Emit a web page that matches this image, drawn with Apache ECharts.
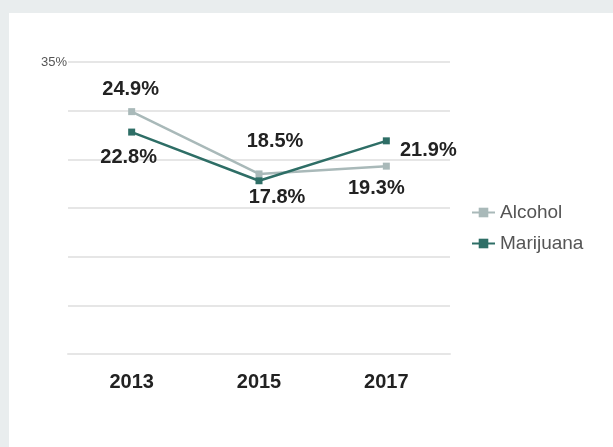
<!DOCTYPE html>
<html>
<head>
<meta charset="utf-8">
<script src="https://cdn.jsdelivr.net/npm/echarts@6/dist/echarts.min.js"></script>
<style>
  html, body { margin: 0; padding: 0; background: #e9edee; }
  #wrap { position: absolute; left: 9px; top: 13px; right: 0; bottom: 0; background: #fff; }
  #main { position: absolute; left: 0; top: 0; width: 613px; height: 447px; }
</style>
</head>
<body>
<div id="wrap"></div>
<div id="main"></div>
<script>
var years = ['2013', '2015', '2017'];
var alcohol = [24.9, 18.5, 19.3];
var marijuana = [22.8, 17.8, 21.9];

var chart = echarts.init(document.getElementById('main'));

var font = 'Liberation Sans, Arial, sans-serif';

// label offsets from each point (centered on the point, then shifted)
var alcOffsets = [[-1, -22], [16, -32], [-10, 22]];
var marOffsets = [[-3, 25], [18, 17], [42, 10]];

function buildData(values, offsets) {
    return values.map(function (v, i) {
        return {
            value: v,
            label: {
                show: true,
                position: 'inside',
                offset: offsets[i],
                formatter: function (p) { return p.value + '%'; },
                fontFamily: font,
                fontWeight: 'bold',
                fontSize: 20,
                color: '#222'
            }
        };
    });
}

chart.setOption({
    backgroundColor: 'transparent',
    animation: false,
    grid: { left: 68, right: 163, top: 62, bottom: 93 },
    legend: {
        orient: 'vertical',
        left: 466,
        top: 198,
        itemGap: 12,
        itemWidth: 23,
        itemHeight: 12,
        textStyle: { fontFamily: font, fontSize: 19, color: '#555' },
        data: ['Alcohol', 'Marijuana']
    },
    xAxis: {
        type: 'category',
        data: years,
        boundaryGap: true,
        axisLine: { show: true, lineStyle: { color: '#e6e6e6', width: 2 } },
        axisTick: { show: false },
        axisLabel: {
            margin: 18,
            fontFamily: font,
            fontWeight: 'bold',
            fontSize: 20,
            color: '#222'
        }
    },
    yAxis: {
        type: 'value',
        min: 0,
        max: 30,
        interval: 5,
        axisLine: { show: false },
        axisTick: { show: false },
        splitLine: { lineStyle: { color: '#e6e6e6', width: 2 } },
        axisLabel: {
            margin: 1,
            fontFamily: font,
            fontSize: 13,
            color: '#555',
            formatter: function (v) { return v === 30 ? '35%' : ''; }
        }
    },
    series: [{
        name: 'Alcohol',
        type: 'line',
        symbol: 'rect',
        symbolSize: 7,
        color: '#a9b9b9',
        lineStyle: { width: 2.5 },
        data: buildData(alcohol, alcOffsets)
    }, {
        name: 'Marijuana',
        type: 'line',
        symbol: 'rect',
        symbolSize: 7,
        color: '#2e6e66',
        lineStyle: { width: 2.5 },
        data: buildData(marijuana, marOffsets)
    }]
});
</script>
</body>
</html>
